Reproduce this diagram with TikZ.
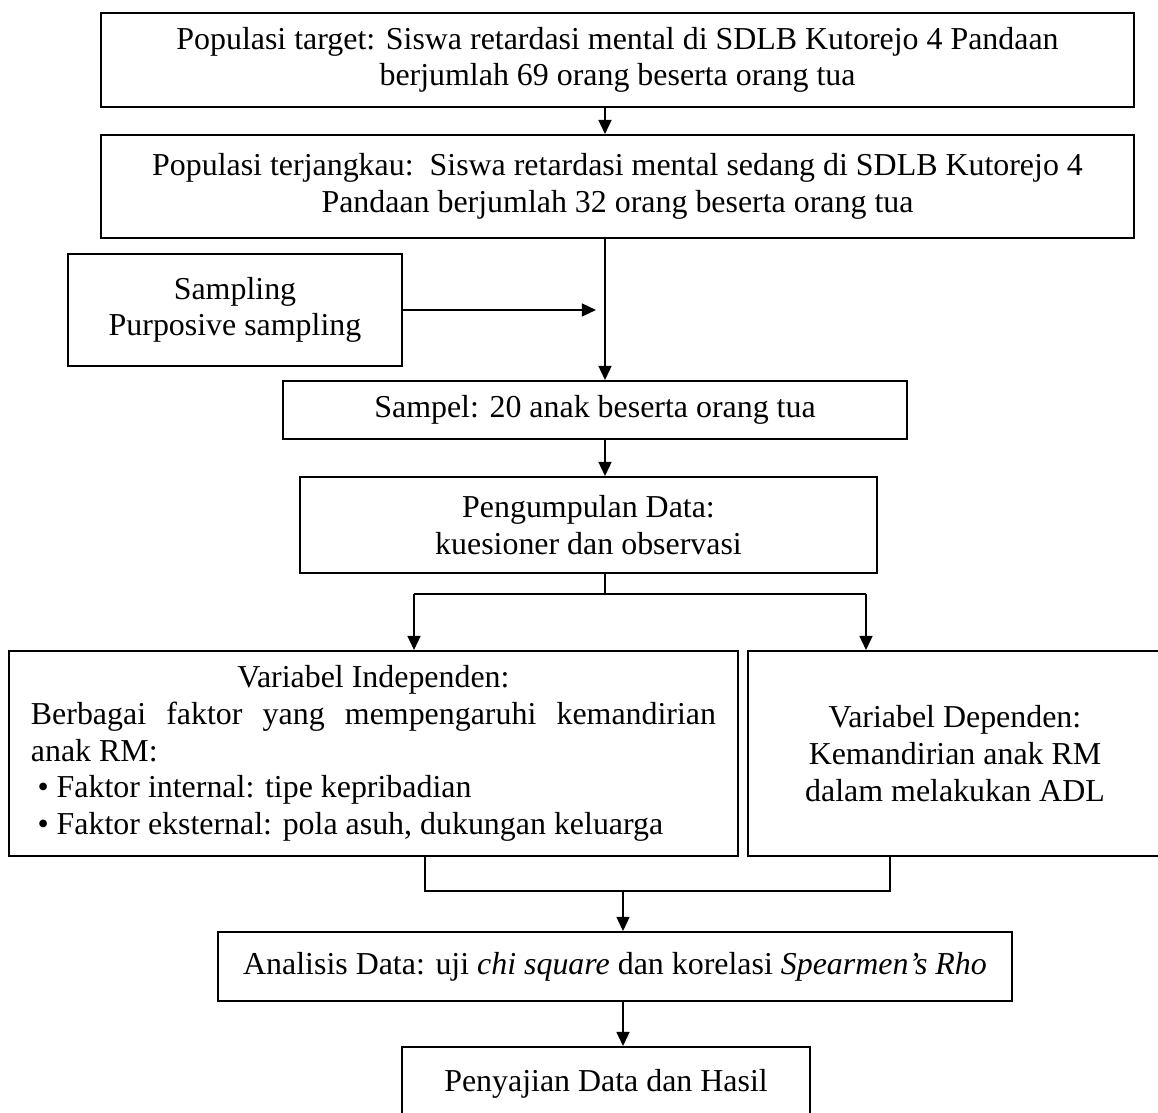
\documentclass[tikz,border=0pt]{standalone}
\usepackage{fontspec}
\setmainfont{Liberation Serif}
\usetikzlibrary{arrows.meta}
\tikzset{
  flowbox/.style={draw=black,line width=0.75pt,inner sep=0pt,align=center,font=\fontsize{12}{13.8}\selectfont},
  boxsize/.style 2 args={minimum width=#1*0.376pt,minimum height=#2*0.376pt},
  flowline/.style={line width=0.6pt,black},
  flowarrow/.style={flowline,-{Triangle[length=5.3pt,width=4.9pt]}},
}
\begin{document}
\begin{tikzpicture}[x=0.376pt,y=-0.376pt]
  \clip (0,0) rectangle (1158,1113);
  \node[flowbox,boxsize={1033}{94}] (ntarget) at (617.5,60) {Populasi target: Siswa retardasi mental di SDLB Kutorejo 4 Pandaan\\berjumlah 69 orang beserta orang tua};
  \node[flowbox,boxsize={1033}{103}] (nreach) at (617.5,186.5) {Populasi terjangkau:\ \ Siswa retardasi mental sedang di SDLB Kutorejo 4\\Pandaan berjumlah 32 orang beserta orang tua};
  \node[flowbox,boxsize={334}{112}] (nsampling) at (235,310) {Sampling\\Purposive sampling};
  \node[flowbox,boxsize={624}{58}] (nsample) at (595,410) {Sampel: 20 anak beserta orang tua};
  \node[flowbox,boxsize={577}{96}] (ncollect) at (588.5,525) {Pengumpulan Data:\\kuesioner dan observasi};
  \node[flowbox,boxsize={729}{205},align=justify,text width=257.6pt] (nindep) at (373.5,753.5)
    {{\centering Variabel Independen:\par}Berbagai faktor yang mempengaruhi kemandirian\linebreak anak RM:\par
     \hspace*{2.5pt}\textbullet\ Faktor internal: tipe kepribadian\par
     \hspace*{2.5pt}\textbullet\ Faktor eksternal: pola asuh, dukungan keluarga};
  \node[flowbox,boxsize={414}{205}] (ndep) at (955,753.5) {Variabel Dependen:\\Kemandirian anak RM\\dalam melakukan ADL};
  \node[flowbox,boxsize={794}{69}] (nanalysis) at (615,966.5) {Analisis Data: uji \textit{chi square} dan korelasi \textit{Spearmen’s Rho}};
  \node[flowbox,boxsize={408}{74}] (npresent) at (606,1084) {Penyajian Data dan Hasil};
  % connector points
  \coordinate (spine) at (605,0);
  \coordinate (forkL) at (414,594);
  \coordinate (forkR) at (866,594);
  \coordinate (joinL) at (425,891);
  \coordinate (joinR) at (890,891);
  \coordinate (joinM) at (623,891);
  \draw[flowarrow] (ntarget.south -| spine) -- (nreach.north -| spine);
  \draw[flowarrow] (nreach.south -| spine) -- (nsample.north -| spine);
  \draw[flowarrow,shorten >=3.4pt] (nsampling.east) -- (nsampling.east -| spine);
  \draw[flowarrow] (nsample.south -| spine) -- (ncollect.north -| spine);
  \draw[flowline] (ncollect.south -| spine) -- (spine |- forkL);
  \draw[flowline] (forkL) -- (forkR);
  \draw[flowarrow] (forkL) -- (forkL |- nindep.north);
  \draw[flowarrow] (forkR) -- (forkR |- ndep.north);
  \draw[flowline] (nindep.south -| joinL) -- (joinL) -- (joinR) -- (ndep.south -| joinR);
  \draw[flowarrow] (joinM) -- (nanalysis.north -| joinM);
  \draw[flowarrow] (nanalysis.south -| joinM) -- (npresent.north -| joinM);
\end{tikzpicture}
\end{document}
